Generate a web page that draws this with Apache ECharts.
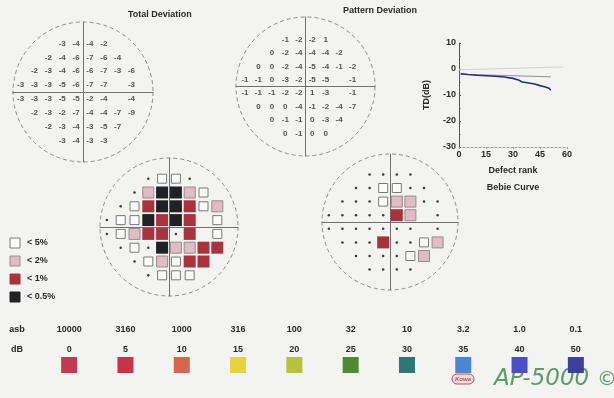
<!DOCTYPE html>
<html>
<head>
<meta charset="utf-8">
<script src="https://cdn.jsdelivr.net/npm/echarts@6/dist/echarts.min.js"></script>
<style>
  html, body { margin: 0; padding: 0; background: #f3f3f1; }
  #chart { width: 614px; height: 398px; }
</style>
</head>
<body>
<div id="chart"></div>
<script>
// Test locations of the 24-2 pattern (degrees)
const fieldX = [-27, -21, -15, -9, -3, 3, 9, 15, 21];
const fieldY = [21, 15, 9, 3, -3, -9, -15, -21];

// Total deviation (dB), one row per fieldY, null = not tested / blind spot
const totalDeviation = [
  [null, null, null, -3, -4, -4, -2, null, null],
  [null, null, -2, -4, -6, -7, -6, -4, null],
  [null, -2, -3, -4, -6, -6, -7, -3, -6],
  [-3, -3, -3, -5, -6, -7, -7, null, -3],
  [-3, -3, -3, -5, -5, -2, -4, null, -4],
  [null, -2, -3, -2, -7, -4, -4, -7, -9],
  [null, null, -2, -3, -4, -3, -5, -7, null],
  [null, null, null, -3, -4, -3, -3, null, null]
];

// Pattern deviation (dB)
const patternDeviation = [
  [null, null, null, -1, -2, -2, 1, null, null],
  [null, null, 0, -2, -4, -4, -4, -2, null],
  [null, 0, 0, -2, -4, -5, -4, -1, -2],
  [-1, -1, 0, -3, -2, -5, -5, null, -1],
  [-1, -1, -1, -2, -2, 1, -3, null, -1],
  [null, 0, 0, 0, -4, -1, -2, -4, -7],
  [null, null, 0, -1, -1, 0, -3, -4, null],
  [null, null, null, 0, -1, 0, 0, null, null]
];

// Probability levels (%): 0 = within normal limits
const totalProb = [
  [null, null, null, 0, 5, 5, 0, null, null],
  [null, null, 0, 2, 0.5, 0.5, 2, 5, null],
  [null, 0, 5, 1, 0.5, 0.5, 1, 5, 2],
  [0, 5, 5, 0.5, 1, 0.5, 1, null, 5],
  [0, 5, 2, 1, 1, 0, 1, null, 5],
  [null, 0, 5, 0, 0.5, 2, 2, 1, 1],
  [null, null, 0, 5, 2, 5, 1, 1, null],
  [null, null, null, 0, 5, 5, 5, null, null]
];
const patternProb = [
  [null, null, null, 0, 0, 0, 0, null, null],
  [null, null, 0, 0, 5, 5, 0, 0, null],
  [null, 0, 0, 0, 5, 2, 2, 0, 0],
  [0, 0, 0, 0, 0, 1, 2, null, 0],
  [0, 0, 0, 0, 0, 0, 0, null, 0],
  [null, 0, 0, 0, 1, 0, 0, 5, 2],
  [null, null, 0, 0, 0, 0, 5, 2, null],
  [null, null, null, 0, 0, 0, 0, null, null]
];

// Bebie curve: [defect rank, TD dB]
const bebiePatient = [[1, -1.8], [5, -2.1], [10, -2.4], [15, -2.6], [20, -2.8], [25, -3.1], [30, -3.6],
  [33, -4.2], [35, -5.0], [38, -5.3], [42, -5.8], [45, -6.4], [48, -6.9], [50, -7.4], [51, -8.2]];
const bebieUpper = [[0, -0.3], [58, 0.8]];
const bebieLower = [[0, -2.0], [51, -3.0]];

// Grey scale key
const asbLabels = ['10000', '3160', '1000', '316', '100', '32', '10', '3.2', '1.0', '0.1'];
const dbLabels = ['0', '5', '10', '15', '20', '25', '30', '35', '40', '50'];
const scaleColors = ['#c23a4f', '#c6344b', '#d4674d', '#e6d33f', '#b6c13d', '#4e8a30', '#2e7678', '#4a86d3', '#4a4fc5', '#3e3fa0'];

const probLevels = [5, 2, 1, 0.5];
const probLegendText = ['< 5%', '< 2%', '< 1%', '< 0.5%'];

const FONT = 'Liberation Sans, Arial, sans-serif';
const INK = '#2a2a2a';

const probStyle = {
  '0': { symbol: 'circle', size: 2.5, style: { color: '#3a3a3a', opacity: 1 } },
  '5': { symbol: 'rect', size: 9, style: { color: '#fbfbfb', borderColor: '#7a7a7a', borderWidth: 1, opacity: 1 } },
  '2': { symbol: 'rect', size: 11, style: { color: '#dfbcc6', borderColor: '#9a8a8e', borderWidth: 1, opacity: 1 } },
  '1': { symbol: 'rect', size: 12, style: { color: '#a8333f', opacity: 1 } },
  '0.5': { symbol: 'rect', size: 12, style: { color: '#1f2124', opacity: 1 } }
};

function fieldPoints(rows) {
  const out = [];
  rows.forEach((row, r) => row.forEach((v, c) => {
    if (v !== null) out.push([fieldX[c], fieldY[r], v]);
  }));
  return out;
}

function probPoints(rows) {
  return fieldPoints(rows).map(p => {
    const s = probStyle[String(p[2])];
    return { value: p, symbol: s.symbol, symbolSize: s.size, itemStyle: s.style };
  });
}

// Field plot frames: circle centre, radius and extent in degrees
const frames = [
  { cx: 83, cy: 92, r: 70, ext: 30.3 },      // total deviation numbers
  { cx: 305.5, cy: 86.5, r: 69.5, ext: 31 }, // pattern deviation numbers
  { cx: 169, cy: 227, r: 69, ext: 30 },      // total deviation probability
  { cx: 390, cy: 222, r: 68, ext: 30 }       // pattern deviation probability
];

const grids = frames.map(f => ({ left: f.cx - f.r, top: f.cy - f.r, width: 2 * f.r, height: 2 * f.r }));
grids.push({ left: 459, top: 43, width: 108, height: 104 });   // Bebie curve
grids.push({ left: 41, top: 357, width: 563, height: 16 });    // grey scale key

const xAxes = [], yAxes = [];
frames.forEach((f, i) => {
  const base = {
    type: 'value', gridIndex: i, min: -f.ext, max: f.ext,
    axisLine: { show: true, onZero: true, lineStyle: { color: '#707070', width: 1 } },
    axisTick: { show: false }, axisLabel: { show: false }, splitLine: { show: false }
  };
  xAxes.push(Object.assign({}, base));
  yAxes.push(Object.assign({}, base));
});
xAxes.push({
  type: 'value', gridIndex: 4, min: 0, max: 60, interval: 15,
  name: 'Defect rank', nameLocation: 'middle', nameGap: 19,
  nameTextStyle: { fontFamily: FONT, fontSize: 9, fontWeight: 'bold', color: INK },
  axisLine: { show: true, onZero: false, lineStyle: { color: '#9a9a9a', type: [2, 2], width: 1 } },
  axisTick: { show: true, length: 2, lineStyle: { color: '#9a9a9a' } },
  axisLabel: { fontFamily: FONT, fontSize: 9, fontWeight: 'bold', color: INK, margin: 3 },
  splitLine: { show: false }
});
yAxes.push({
  type: 'value', gridIndex: 4, min: -30, max: 10, interval: 10,
  name: 'TD(dB)', nameLocation: 'middle', nameGap: 28, nameRotate: 90,
  nameTextStyle: { fontFamily: FONT, fontSize: 9, fontWeight: 'bold', color: INK },
  axisLine: { show: true, onZero: false, lineStyle: { color: '#555', width: 1 } },
  axisTick: { show: true, length: 2, inside: true, lineStyle: { color: '#555' } },
  minorTick: { show: true, splitNumber: 2, length: 1.5 },
  axisLabel: { fontFamily: FONT, fontSize: 9, fontWeight: 'bold', color: INK, margin: 3 },
  splitLine: { show: false }
});
xAxes.push({ type: 'category', gridIndex: 5, data: dbLabels, show: false });
yAxes.push({ type: 'value', gridIndex: 5, min: -1, max: 1, show: false });

const polars = frames.map(f => ({ center: [f.cx, f.cy], radius: f.r }));
const angleAxes = frames.map((f, i) => ({
  polarIndex: i, min: 0, max: 360,
  axisLine: { show: true, lineStyle: { color: '#8c8c8c', type: [4, 3], width: 1 } },
  axisTick: { show: false }, axisLabel: { show: false }, splitLine: { show: false }
}));
const radiusAxes = frames.map((f, i) => ({ polarIndex: i, min: 0, max: 1, show: false }));

const numberLabel = {
  show: true, position: 'inside', formatter: p => String(p.value[2]),
  fontFamily: FONT, fontSize: 8, fontWeight: 'bold', color: INK
};

const series = [
  {
    type: 'scatter', xAxisIndex: 0, yAxisIndex: 0, data: fieldPoints(totalDeviation),
    symbolSize: 1, itemStyle: { color: 'rgba(0,0,0,0)' }, label: numberLabel, silent: true
  },
  {
    type: 'scatter', xAxisIndex: 1, yAxisIndex: 1, data: fieldPoints(patternDeviation),
    symbolSize: 1, itemStyle: { color: 'rgba(0,0,0,0)' }, label: numberLabel, silent: true
  },
  { type: 'scatter', xAxisIndex: 2, yAxisIndex: 2, data: probPoints(totalProb), itemStyle: { opacity: 1 }, silent: true },
  { type: 'scatter', xAxisIndex: 3, yAxisIndex: 3, data: probPoints(patternProb), itemStyle: { opacity: 1 }, silent: true },
  {
    type: 'line', xAxisIndex: 4, yAxisIndex: 4, data: bebieUpper, symbol: 'none',
    lineStyle: { color: '#d2d2d2', width: 1 }, silent: true
  },
  {
    type: 'line', xAxisIndex: 4, yAxisIndex: 4, data: bebieLower, symbol: 'none',
    lineStyle: { color: '#8f8f95', width: 1 }, silent: true
  },
  {
    type: 'line', xAxisIndex: 4, yAxisIndex: 4, data: bebiePatient, symbol: 'none',
    lineStyle: { color: '#2b3070', width: 1.6 }, silent: true
  },
  {
    type: 'scatter', xAxisIndex: 5, yAxisIndex: 5, silent: true,
    data: dbLabels.map((d, i) => ({ value: [i, 0], itemStyle: { color: scaleColors[i], opacity: 1 } })),
    symbol: 'rect', symbolSize: 16,
    label: {
      show: true, position: 'top', distance: 0, offset: [0, 3],
      formatter: p => asbLabels[p.dataIndex] + '\n' + dbLabels[p.dataIndex],
      fontFamily: FONT, fontSize: 9, fontWeight: 'bold', color: INK, lineHeight: 20
    }
  }
];

// Probability key and page texts
const graphics = [
  { type: 'text', left: 128, top: 10, style: { text: 'Total Deviation', font: 'bold 9px ' + FONT, fill: INK } },
  { type: 'text', left: 343, top: 6, style: { text: 'Pattern Deviation', font: 'bold 9px ' + FONT, fill: INK } },
  { type: 'text', x: 513, y: 188, style: { text: 'Bebie Curve', font: 'bold 9px ' + FONT, fill: INK, align: 'center', verticalAlign: 'middle' } },
  { type: 'text', x: 17, y: 330, style: { text: 'asb', font: 'bold 9px ' + FONT, fill: INK, align: 'center', verticalAlign: 'middle' } },
  { type: 'text', x: 17, y: 350, style: { text: 'dB', font: 'bold 9px ' + FONT, fill: INK, align: 'center', verticalAlign: 'middle' } },
  { type: 'rect', shape: { x: 452, y: 374, width: 22, height: 10, r: 5 }, style: { fill: '#f2dde1', stroke: '#c24a5c', lineWidth: 1 } },
  { type: 'text', x: 463, y: 379, style: { text: 'Kowa', font: 'italic bold 6px ' + FONT, fill: '#c24a5c', align: 'center', verticalAlign: 'middle' } },
  { type: 'text', x: 494, y: 379, style: { text: 'AP-5000', font: 'italic 23px DejaVu Sans, sans-serif', fill: '#5b9d68', verticalAlign: 'middle' } },
  { type: 'text', x: 597, y: 380, style: { text: '©', font: '20px DejaVu Sans, sans-serif', fill: '#5b9d68', verticalAlign: 'middle' } }
];
probLevels.forEach((lv, i) => {
  const s = probStyle[String(lv)];
  const y = 243 + i * 18;
  graphics.push({
    type: 'rect', shape: { x: 10, y: y - 5, width: 10, height: 10 },
    style: { fill: s.style.color, stroke: s.style.borderColor || s.style.color, lineWidth: 1 }
  });
  graphics.push({
    type: 'text', x: 27, y: y, style: { text: probLegendText[i], font: 'bold 9px ' + FONT, fill: INK, verticalAlign: 'middle' }
  });
});

const chart = echarts.init(document.getElementById('chart'), null, { renderer: 'canvas' });
chart.setOption({
  backgroundColor: '#f3f3f1',
  animation: false,
  grid: grids,
  xAxis: xAxes,
  yAxis: yAxes,
  polar: polars,
  angleAxis: angleAxes,
  radiusAxis: radiusAxes,
  series: series,
  graphic: graphics
});
</script>
</body>
</html>
